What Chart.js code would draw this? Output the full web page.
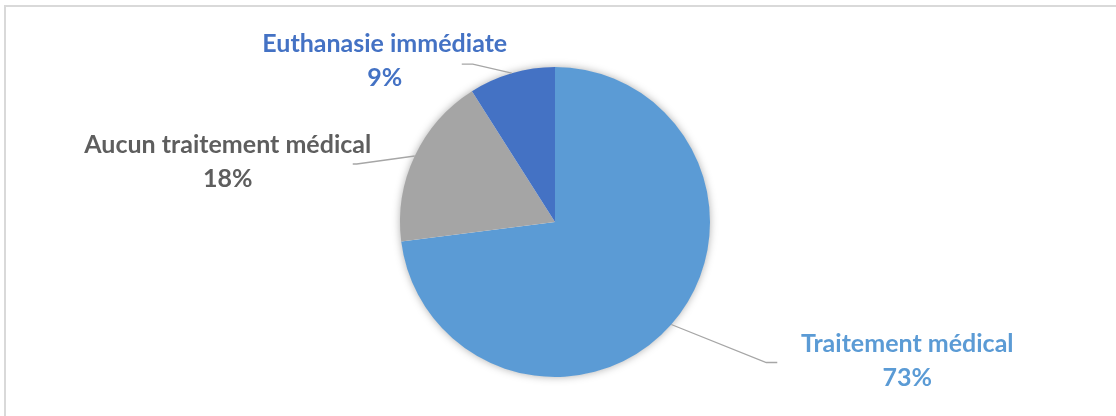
<!DOCTYPE html>
<html lang="fr">
<head>
<meta charset="utf-8">
<script src="https://cdn.jsdelivr.net/npm/chart.js@4/dist/chart.umd.min.js"></script>
<style>
  html, body { margin: 0; padding: 0; background: #fff; }
  #wrap { position: relative; width: 1116px; height: 416px; overflow: hidden; }
  #frame { position: absolute; left: 4px; top: 5px; width: 1200px; height: 500px; border: 2px solid #d9d9d9; box-sizing: border-box; }
  canvas { position: absolute; left: 0; top: 0; }
</style>
</head>
<body>
<div id="wrap">
  <div id="frame"></div>
  <canvas id="pie" width="1116" height="416"></canvas>
</div>
<script>
const categories = ['Traitement médical', 'Aucun traitement médical', 'Euthanasie immédiate'];
const percentages = [73, 18, 9];
const sliceColors = ['#5b9bd5', '#a5a5a5', '#4472c4'];
const labelColors = ['#5b9bd5', '#5e5e5e', '#4472c4'];

// where each label block sits, relative to the point on the rim it points to
const labelLayout = [
  { elbow: [95, 38], end: [106, 38], text: [236, 36] },
  { elbow: [-58, 8], end: [-62, 8], text: [-187, 6] },
  { elbow: [-39, -9], end: [-50, -9], text: [-127, -12] }
];

const pieShadow = {
  id: 'pieShadow',
  beforeDatasetsDraw(chart) {
    const arc = chart.getDatasetMeta(0).data[0];
    if (!arc) return;
    const ctx = chart.ctx;
    ctx.save();
    ctx.shadowColor = 'rgba(0,0,0,0.35)';
    ctx.shadowBlur = 9;
    ctx.fillStyle = '#ffffff';
    ctx.beginPath();
    ctx.arc(arc.x, arc.y, arc.outerRadius - 0.5, 0, Math.PI * 2);
    ctx.fill();
    ctx.restore();
  }
};

const leaderLabels = {
  id: 'leaderLabels',
  afterDatasetsDraw(chart) {
    const ctx = chart.ctx;
    const meta = chart.getDatasetMeta(0);
    meta.data.forEach((arc, i) => {
      const mid = (arc.startAngle + arc.endAngle) / 2;
      const ex = arc.x + Math.cos(mid) * arc.outerRadius;
      const ey = arc.y + Math.sin(mid) * arc.outerRadius;
      const lay = labelLayout[i];

      ctx.save();
      ctx.strokeStyle = '#a6a6a6';
      ctx.lineWidth = 1.3;
      ctx.beginPath();
      ctx.moveTo(ex, ey);
      ctx.lineTo(ex + lay.elbow[0], ey + lay.elbow[1]);
      ctx.lineTo(ex + lay.end[0], ey + lay.end[1]);
      ctx.stroke();

      const tx = ex + lay.text[0];
      const ty = ey + lay.text[1];
      ctx.fillStyle = labelColors[i];
      ctx.font = 'bold 25px Lato, "Open Sans", sans-serif';
      ctx.textAlign = 'center';
      ctx.textBaseline = 'middle';
      ctx.fillText(categories[i], tx, ty - 17);
      ctx.fillText(percentages[i] + '%', tx, ty + 17);
      ctx.restore();
    });
  }
};

new Chart(document.getElementById('pie'), {
  type: 'pie',
  data: {
    labels: categories,
    datasets: [{
      data: percentages,
      backgroundColor: sliceColors,
      borderWidth: 0
    }]
  },
  options: {
    responsive: false,
    animation: false,
    layout: { padding: { left: 400, right: 406, top: 67, bottom: 39 } },
    plugins: {
      legend: { display: false },
      tooltip: { enabled: false }
    }
  },
  plugins: [pieShadow, leaderLabels]
});
</script>
</body>
</html>
